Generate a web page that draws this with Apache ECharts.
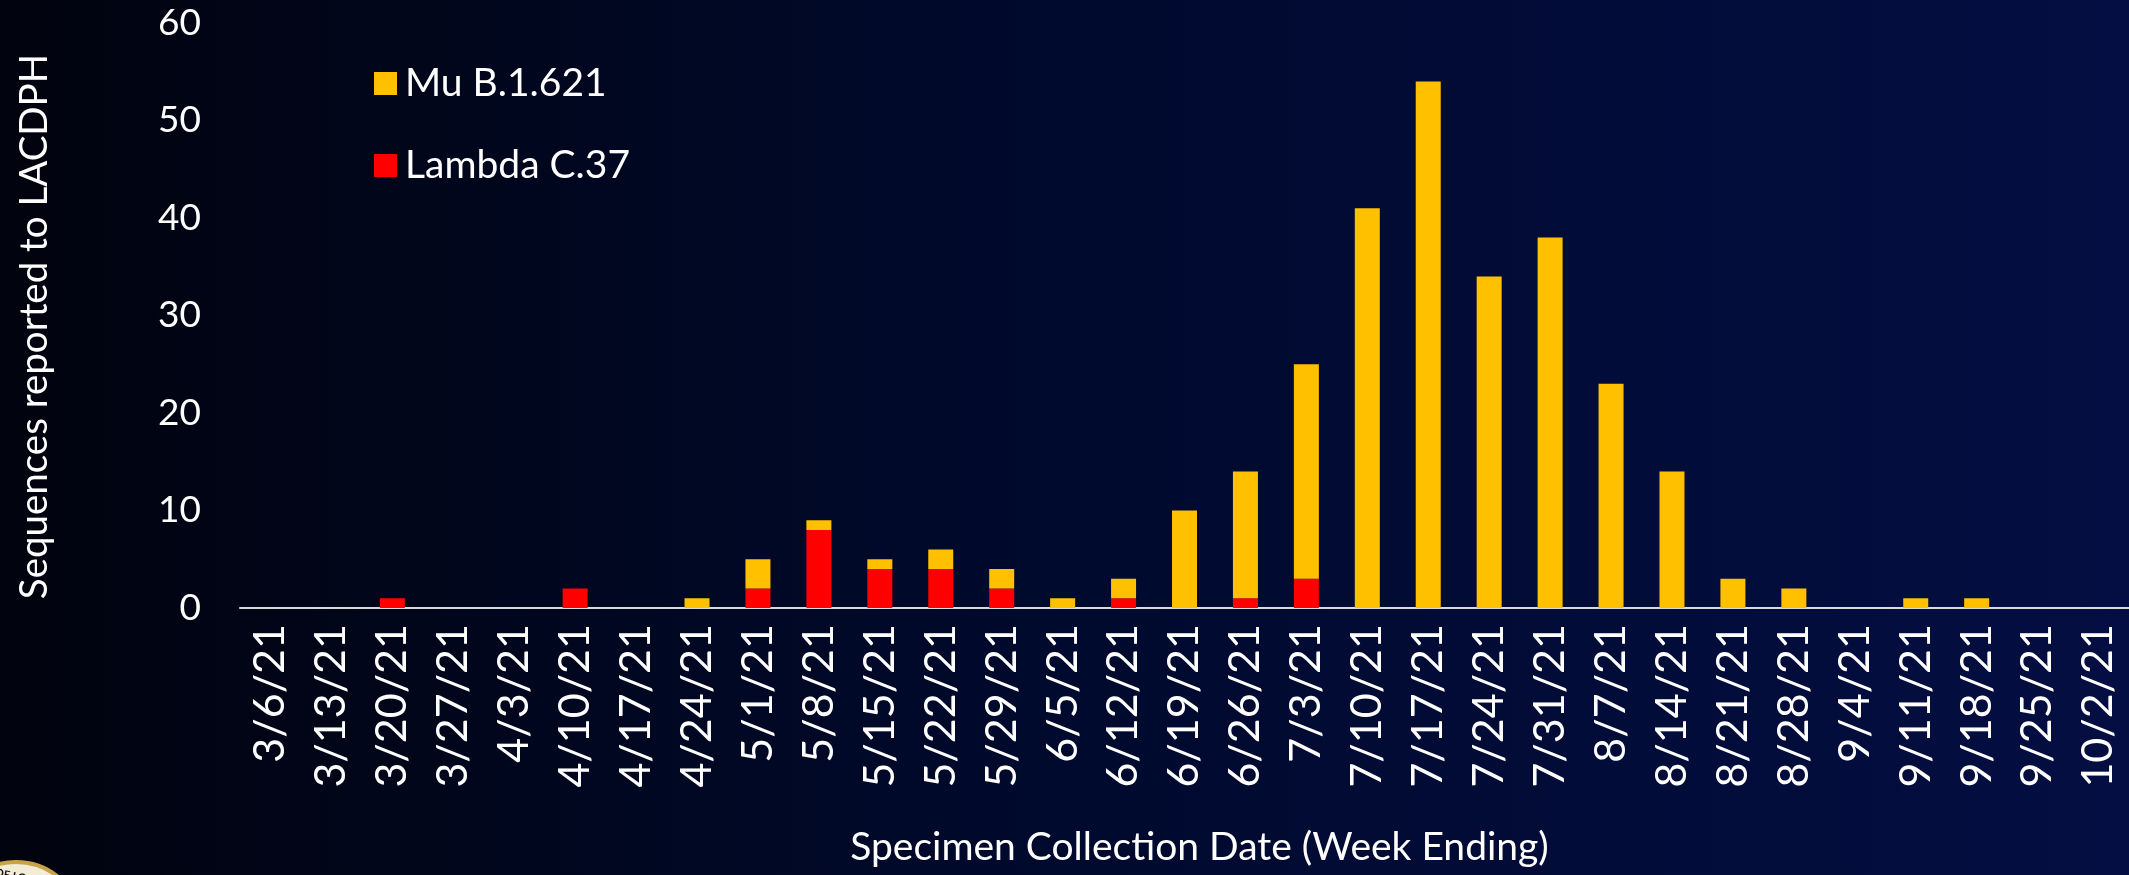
<!DOCTYPE html>
<html>
<head>
<meta charset="utf-8">
<title>Mu / Lambda sequences</title>
<script src="https://cdn.jsdelivr.net/npm/echarts@6/dist/echarts.min.js"></script>
<style>
	html, body { margin: 0; padding: 0; background: #01030e; }
	#chart { width: 2129px; height: 875px; }
</style>
</head>
<body>
<div id="chart"></div>
<script>
// week ending dates
const weeks = [
	"3/6/21", "3/13/21", "3/20/21", "3/27/21", "4/3/21", "4/10/21", "4/17/21", "4/24/21",
	"5/1/21", "5/8/21", "5/15/21", "5/22/21", "5/29/21", "6/5/21", "6/12/21", "6/19/21",
	"6/26/21", "7/3/21", "7/10/21", "7/17/21", "7/24/21", "7/31/21", "8/7/21", "8/14/21",
	"8/21/21", "8/28/21", "9/4/21", "9/11/21", "9/18/21", "9/25/21", "10/2/21"
];
const lambdaC37 = [0, 0, 1, 0, 0, 2, 0, 0, 2, 8, 4, 4, 2, 0, 1, 0, 1, 3, 0, 0, 0, 0, 0, 0, 0, 0, 0, 0, 0, 0, 0];
const muB1621 = [0, 0, 0, 0, 0, 0, 0, 1, 3, 1, 1, 2, 2, 1, 2, 10, 13, 22, 41, 54, 34, 38, 23, 14, 3, 2, 0, 1, 1, 0, 0];
const yTicks = { min: 0, max: 60, interval: 10 };

const fontName = "Lato";
const white = "#ffffff";

const chart = echarts.init(document.getElementById("chart"));

const option = {
	animation: false,
	backgroundColor: {
		type: "linear",
		x: 0, y: 0, x2: 1, y2: 0,
		colorStops: [
			{ offset: 0, color: "#01030e" },
			{ offset: 0.5, color: "#000a2e" },
			{ offset: 1, color: "#040e42" }
		]
	},
	textStyle: { fontFamily: fontName, color: white },
	legend: {
		orient: "vertical",
		left: 369,
		top: 59,
		itemWidth: 23,
		itemHeight: 23,
		itemGap: 43,
		icon: "rect",
		data: ["Mu B.1.621", "Lambda C.37"],
		textStyle: { color: white, fontSize: 39, fontFamily: fontName, padding: [0, 0, 0, 3] }
	},
	grid: {
		left: 240,
		right: 0,
		top: 23,
		bottom: 267,
		containLabel: false
	},
	xAxis: {
		type: "category",
		data: weeks,
		name: "Specimen Collection Date (Week Ending)",
		nameLocation: "middle",
		nameGap: 220,
		nameTextStyle: { color: white, fontSize: 39, fontFamily: fontName, padding: [0, 0, 0, 30] },
		axisLine: { lineStyle: { color: "#d9d9d9", width: 2 } },
		axisTick: { length: 13, lineStyle: { color: "#d9d9d9", width: 2 } },
		axisLabel: {
			rotate: 90,
			margin: 16,
			interval: 0,
			color: white,
			fontSize: 43,
			fontFamily: fontName
		}
	},
	yAxis: {
		type: "value",
		min: yTicks.min,
		max: yTicks.max,
		interval: yTicks.interval,
		name: "Sequences reported to LACDPH",
		nameLocation: "middle",
		nameGap: 186,
		nameTextStyle: { color: white, fontSize: 38.5, fontFamily: fontName, padding: [0, 22, 0, 0] },
		axisLine: { show: false },
		axisTick: { show: false },
		splitLine: { show: false },
		axisLabel: { color: white, fontSize: 37, fontFamily: fontName, margin: 39 }
	},
	series: [
		{
			name: "Lambda C.37",
			type: "bar",
			stack: "total",
			barWidth: 25,
			itemStyle: { color: "#ff0000" },
			data: lambdaC37
		},
		{
			name: "Mu B.1.621",
			type: "bar",
			stack: "total",
			barWidth: 25,
			itemStyle: { color: "#ffc000" },
			data: muB1621
		}
	],
	graphic: [
		{
			// seal in the bottom-left corner
			type: "group",
			left: -53,
			top: 860,
			children: [
				{
					type: "circle",
					shape: { cx: 68, cy: 68, r: 67 },
					style: { fill: "#f3ecd6", stroke: "#c9a24a", lineWidth: 4 }
				},
				{
					type: "text",
					x: 48,
					y: 6,
					rotation: -0.2,
					style: { text: "OF LOS A", fill: "#111", font: "bold 11px Lato" }
				}
			]
		}
	]
};

chart.setOption(option);
</script>
</body>
</html>
